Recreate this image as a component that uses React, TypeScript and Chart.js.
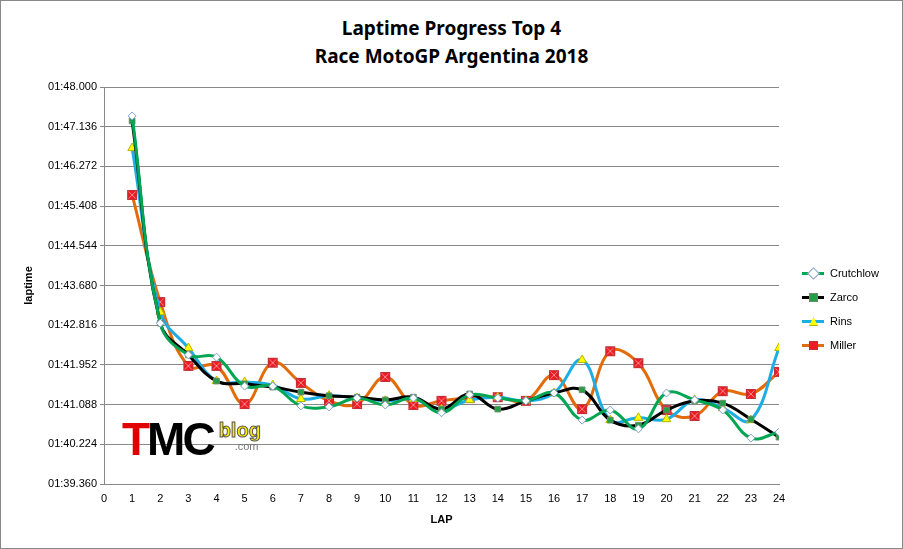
import { useEffect, useRef } from 'react';
import { Chart, registerables } from 'chart.js';

Chart.register(...registerables);

// lap times in seconds (1:47.37 -> 107.37)
const laps = [1, 2, 3, 4, 5, 6, 7, 8, 9, 10, 11, 12, 13, 14, 15, 16, 17, 18, 19, 20, 21, 22, 23, 24];
const crutchlow = [107.37, 102.86, 102.17, 102.12, 101.49, 101.49, 101.06, 101.04, 101.23, 101.08, 101.23, 100.91, 101.30, 101.23, 101.17, 101.34, 100.75, 100.97, 100.56, 101.34, 101.19, 100.97, 100.36, 100.49];
const zarco = [107.26, 102.86, 102.17, 101.60, 101.54, 101.47, 101.36, 101.28, 101.25, 101.19, 101.25, 100.99, 101.32, 100.99, 101.17, 101.34, 101.41, 100.75, 100.64, 100.97, 101.17, 101.12, 100.77, 100.38];
const rins = [106.67, 103.10, 102.32, 101.60, 101.58, 101.51, 101.21, 101.28, 101.23, 101.17, 101.21, 100.99, 101.19, 101.25, 101.17, 101.34, 102.06, 100.75, 100.80, 100.77, 101.19, 101.01, 100.75, 102.32];
const miller = [105.65, 103.32, 101.93, 101.93, 101.10, 102.0, 101.56, 101.17, 101.10, 101.69, 101.08, 101.17, 101.23, 101.25, 101.17, 101.73, 100.99, 102.25, 101.99, 100.97, 100.84, 101.38, 101.32, 101.80];
const yTicks = [99.36, 100.224, 101.088, 101.952, 102.816, 103.68, 104.544, 105.408, 106.272, 107.136, 108.0];
const xTicks = [0, 1, 2, 3, 4, 5, 6, 7, 8, 9, 10, 11, 12, 13, 14, 15, 16, 17, 18, 19, 20, 21, 22, 23, 24];

const fmt = (v: number) => {
  const s = (v - 60).toFixed(3);
  return '01:' + (s.length < 6 ? '0' + s : s);
};

const SERIES = [
  { name: 'Crutchlow', data: crutchlow, line: '#00A651', fill: '#FFFFFF', border: '#7F9FC8', style: 'rectRot', r: 4 },
  { name: 'Zarco', data: zarco, line: '#000000', fill: '#23A046', border: '#6a8a6a', style: 'rect', r: 4 },
  { name: 'Rins', data: rins, line: '#1CADE4', fill: '#FFFF00', border: '#B5B500', style: 'triangle', r: 5 },
  { name: 'Miller', data: miller, line: '#E36C0A', fill: '#ED1C24', border: '#C0303A', style: 'crossRectMarker', r: 5 },
];

function marker(fill: string, border: string) {
  const c = document.createElement('canvas');
  c.width = 12; c.height = 12;
  const g = c.getContext('2d')!;
  g.fillStyle = fill; g.strokeStyle = border; g.lineWidth = 1;
  g.fillRect(1.5, 1.5, 9, 9); g.strokeRect(1.5, 1.5, 9, 9);
  g.strokeStyle = '#F58A8A';
  g.beginPath(); g.moveTo(2.5, 2.5); g.lineTo(9.5, 9.5); g.moveTo(9.5, 2.5); g.lineTo(2.5, 9.5); g.stroke();
  return c;
}

export default function App() {
  const ref = useRef<HTMLCanvasElement>(null);
  useEffect(() => {
    if (!ref.current) return;
    const chart = new Chart(ref.current, {
      type: 'line',
      data: {
        datasets: SERIES.map((s) => ({
          label: s.name,
          data: s.data.map((y, i) => ({ x: laps[i], y })),
          borderColor: s.line,
          borderWidth: 3,
          tension: 0.4,
          pointStyle: s.style === 'crossRectMarker' ? (marker(s.fill, s.border) as any) : (s.style as any),
          pointRadius: s.r,
          pointBackgroundColor: s.fill,
          pointBorderColor: s.border,
          pointBorderWidth: 1,
        })),
      },
      options: {
        animation: false,
        responsive: false,
        layout: { padding: { left: 18, top: 87, right: 124, bottom: 18 } },
        plugins: { legend: { display: false }, tooltip: { enabled: false } },
        scales: {
          x: {
            type: 'linear', min: 0, max: 24,
            afterBuildTicks: (s: any) => { s.ticks = xTicks.map((v) => ({ value: v })); },
            afterFit: (s: any) => { s.height = 549 - 484 - 18; },
            grid: { display: false, drawTicks: true, tickLength: 4, color: '#888' },
            border: { color: '#888' },
            ticks: { color: '#000', font: { family: 'Liberation Sans', size: 11 }, maxRotation: 0, padding: 4 },
            title: { display: true, text: 'LAP', color: '#000', font: { family: 'Liberation Sans', size: 11, weight: 'bold' }, padding: { top: 2 } },
          },
          y: {
            min: 99.36, max: 108,
            afterBuildTicks: (s: any) => { s.ticks = yTicks.map((v) => ({ value: v })); },
            afterFit: (s: any) => { s.width = 104 - 18; },
            grid: { color: '#888', tickLength: 4 },
            border: { color: '#888' },
            ticks: { color: '#000', font: { family: 'Liberation Sans', size: 11 }, callback: (v: any) => fmt(Number(v)) },
            title: { display: true, text: 'laptime', color: '#000', font: { family: 'Liberation Sans', size: 11, weight: 'bold' } },
          },
        },
      },
    });
    return () => chart.destroy();
  }, []);

  return (
    <div style={{ position: 'fixed', left: 0, top: 0, width: 903, height: 549, background: '#fff', fontFamily: 'Liberation Sans' }}>
      <div style={{ position: 'absolute', inset: 0, border: '1px solid #888', boxSizing: 'border-box' }} />
      <div style={{ position: 'absolute', top: 14, left: 0, width: 903, textAlign: 'center', fontFamily: 'Noto Sans', fontWeight: 'bold', fontSize: 19, lineHeight: '28px' }}>
        Laptime Progress Top 4<br />Race MotoGP Argentina 2018
      </div>
      <canvas ref={ref} width={903} height={549} style={{ position: 'absolute', left: 0, top: 0 }} />
      <div style={{ position: 'absolute', left: 802, top: 261, fontSize: 11 }}>
        {SERIES.map((s) => (
          <div key={s.name} style={{ display: 'flex', alignItems: 'center', height: 24 }}>
            <div style={{ position: 'relative', width: 22, height: 10, marginRight: 6 }}>
              <div style={{ position: 'absolute', top: 4, left: 0, width: 22, height: 3, background: s.line }} />
              <div style={{
                position: 'absolute', left: 7, top: 1, width: 7, height: 7, background: s.fill, border: `1px solid ${s.border}`,
                transform: s.style === 'rectRot' ? 'rotate(45deg)' : undefined,
                clipPath: s.style === 'triangle' ? 'polygon(50% 0, 100% 100%, 0 100%)' : undefined,
              }} />
            </div>
            {s.name}
          </div>
        ))}
      </div>
      <div style={{ position: 'absolute', left: 122, top: 416, display: 'flex', alignItems: 'flex-start' }}>
        <span style={{ fontFamily: 'Liberation Sans', fontWeight: 'bold', fontSize: 46, lineHeight: '46px', color: '#E00000', letterSpacing: -3 }}>T</span>
        <span style={{ fontFamily: 'Liberation Sans', fontWeight: 'bold', fontSize: 46, lineHeight: '46px', color: '#000', letterSpacing: -3 }}>MC</span>
        <div style={{ marginLeft: 6, marginTop: 6, lineHeight: '16px' }}>
          <div style={{ fontWeight: 'bold', fontSize: 20, color: '#FFEB00', WebkitTextStroke: '1px #555' }}>blog</div>
          <div style={{ fontSize: 11, color: '#777', marginLeft: 16 }}>.com</div>
        </div>
      </div>
    </div>
  );
}
